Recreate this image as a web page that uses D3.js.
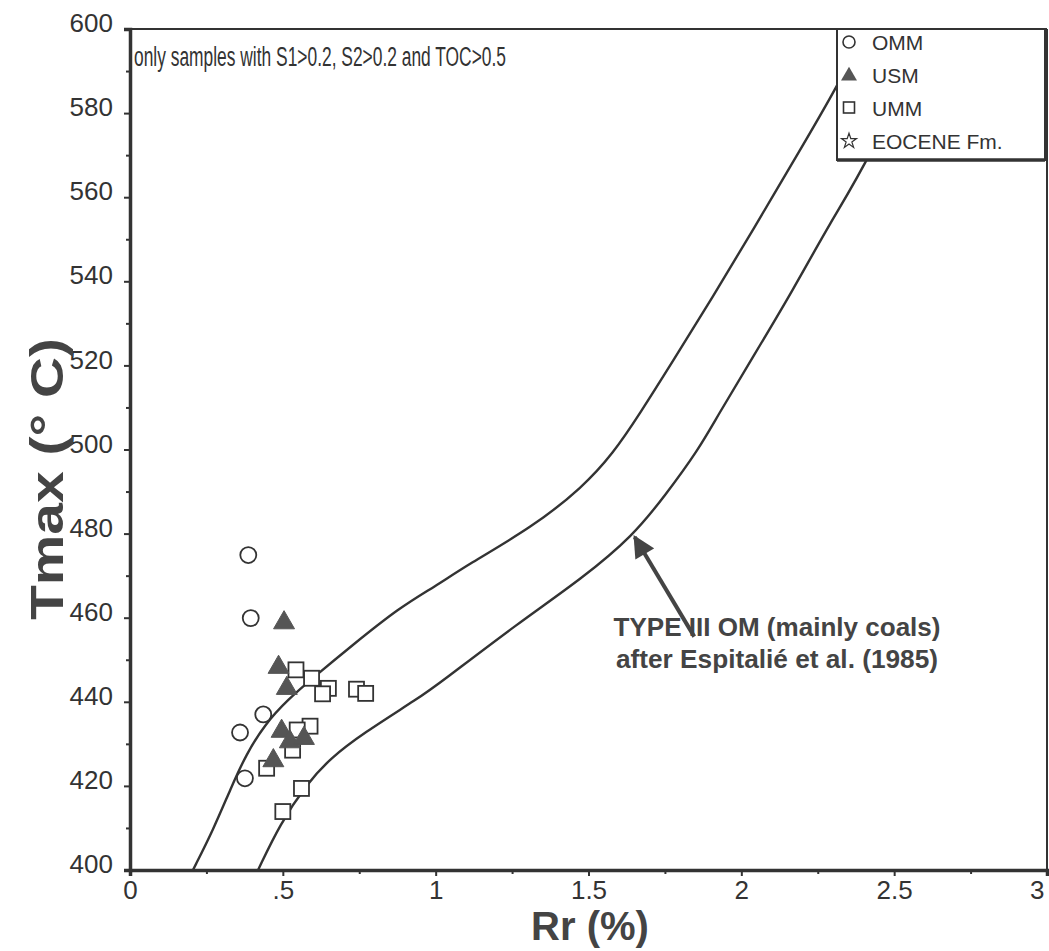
<!DOCTYPE html>
<html><head><meta charset="utf-8">
<script src="https://cdn.jsdelivr.net/npm/d3@7"></script>
<style>body{margin:0;background:#fff}svg{display:block}text{font-family:Arial,"Liberation Sans",Helvetica,sans-serif}</style>
</head><body><svg id="c" width="1049" height="951"></svg>
<script>
// Data (Rr %, Tmax °C)
const omm = [[0.387,474.9],[0.395,459.9],[0.436,437.0],[0.360,432.7],[0.376,421.8]];
const usm = [[0.504,458.8],[0.486,448.2],[0.513,443.2],[0.496,433.0],[0.523,430.5],[0.569,431.3],[0.469,426.0]];
const umm = [[0.543,447.6],[0.594,445.6],[0.649,443.2],[0.630,441.9],[0.741,443.0],[0.771,442.0],[0.589,434.2],[0.547,433.3],[0.532,428.5],[0.447,424.2],[0.561,419.4],[0.500,413.9]];
const eocene = [];
const curveLow = [[0.206,400],[0.272,409.5],[0.330,419.5],[0.380,427.5],[0.440,434.5],[0.514,440.4],[0.612,446.5],[0.720,453.0],[0.883,462.5],[1.0,467.5],[1.102,472.5],[1.318,481.6],[1.482,491.1],[1.580,499],[1.668,508.5],[1.776,521],[1.907,536.3],[2.038,552.2],[2.192,571.2],[2.313,586.2],[2.408,600]];
const curveHigh = [[0.419,400],[0.491,411],[0.579,420.5],[0.654,426.5],[0.762,432.5],[0.949,441.1],[1.014,444.5],[1.266,458.5],[1.482,469.5],[1.646,479.5],[1.750,489],[1.860,500],[1.920,507.7],[2.038,522.0],[2.169,537.9],[2.290,553.9],[2.414,568.4],[2.617,600]];
const xTicks = [0,0.5,1,1.5,2,2.5,3];
const xTickLabels = ["0",".5","1","1.5","2","2.5","3"];
const yTicks = [400,420,440,460,480,500,520,540,560,580,600];
const legendLabels = ["OMM","USM","UMM","EOCENE Fm."];
const noteText = "only samples with S1>0.2, S2>0.2 and TOC>0.5";
const curveNote = ["TYPE III OM (mainly coals)","after Espitalié et al. (1985)"];
const arrowFrom = [1.846,455.5], arrowTo = [1.651,479.2];

const ink = "#333", fillTri = "#555";
const svg = d3.select("#c");
const x = d3.scaleLinear().domain([0,3]).range([130,1047]);
const y = d3.scaleLinear().domain([400,600]).range([870,29]);

const defs = svg.append("defs");
defs.append("clipPath").attr("id","clip").append("rect")
  .attr("x",130).attr("y",29).attr("width",917).attr("height",841);

// frame top/right
svg.append("line").attr("x1",130).attr("x2",1047).attr("y1",29).attr("y2",29).attr("stroke",ink).attr("stroke-width",2);
svg.append("line").attr("x1",1047).attr("x2",1047).attr("y1",29).attr("y2",870).attr("stroke",ink).attr("stroke-width",2);

// curves
const line = d3.line().x(d=>x(d[0])).y(d=>y(d[1])).curve(d3.curveBasis);
const cg = svg.append("g").attr("clip-path","url(#clip)");
[curveLow,curveHigh].forEach(c=>cg.append("path").attr("d",line(c)).attr("fill","none").attr("stroke",ink).attr("stroke-width",2.4));

// axes
const last = xTicks.length-1;
const xAxis = d3.axisBottom(x).tickValues(xTicks).tickFormat((d,i)=>xTickLabels[i]).tickSize(6).tickPadding(5);
const gx = svg.append("g").attr("transform","translate(0,870)").call(xAxis);
gx.select(".domain").attr("stroke",ink).attr("stroke-width",3.5);
gx.selectAll(".tick line").attr("stroke",ink).attr("stroke-width",2);
gx.selectAll(".tick text").attr("fill",ink).attr("font-size",26).attr("text-anchor",(d,i)=>i===last?"end":"middle").attr("dx",(d,i)=>i===last?-3:0);
const gxm = svg.append("g").attr("transform","translate(0,870)").call(d3.axisBottom(x).tickValues(d3.range(0.25,3,0.5)).tickSize(4).tickFormat(""));
gxm.select(".domain").remove(); gxm.selectAll(".tick line").attr("stroke",ink).attr("stroke-width",2);

const yAxis = d3.axisLeft(y).tickValues(yTicks).tickSize(6).tickPadding(11);
const gy = svg.append("g").attr("transform","translate(130,0)").call(yAxis);
gy.select(".domain").attr("stroke",ink).attr("stroke-width",3.5);
gy.selectAll(".tick line").attr("stroke",ink).attr("stroke-width",2);
gy.selectAll(".tick text").attr("fill",ink).attr("font-size",26).attr("dy","0.1em");
const gym = svg.append("g").attr("transform","translate(130,0)").call(d3.axisLeft(y).tickValues(d3.range(410,600,20)).tickSize(4).tickFormat(""));
gym.select(".domain").remove(); gym.selectAll(".tick line").attr("stroke",ink).attr("stroke-width",2);

// titles
svg.append("text").attr("x",590).attr("y",940).attr("text-anchor","middle").attr("font-weight","bold").attr("font-size",40).attr("fill","#444").text("Rr (%)");
svg.append("text").attr("transform","translate(63,479) rotate(-90)").attr("text-anchor","middle").attr("font-weight","bold").attr("font-size",47)
  .attr("textLength",282).attr("lengthAdjust","spacingAndGlyphs").attr("fill","#444").text("Tmax (° C)");

// markers
const mk = svg.append("g");
const triPath = d3.symbol().type(d3.symbolTriangle).size(190)();
mk.selectAll("circle.omm").data(omm).join("circle").attr("cx",d=>x(d[0])).attr("cy",d=>y(d[1])).attr("r",8).attr("fill","#fff").attr("stroke",ink).attr("stroke-width",1.8);
mk.selectAll("rect.umm").data(umm).join("rect").attr("x",d=>x(d[0])-7.5).attr("y",d=>y(d[1])-7.5).attr("width",15).attr("height",15).attr("fill","#fff").attr("stroke",ink).attr("stroke-width",1.8);
mk.selectAll("path.usm").data(usm).join("path").attr("d",triPath).attr("transform",d=>`translate(${x(d[0])},${y(d[1])})`).attr("fill",fillTri).attr("stroke",fillTri).attr("stroke-width",1);

// note text
svg.append("text").attr("x",134).attr("y",66).attr("font-size",27).attr("textLength",372).attr("lengthAdjust","spacingAndGlyphs").attr("fill",ink).text(noteText);

// arrow
defs.append("marker").attr("id","ah").attr("viewBox","0 0 10 10").attr("refX",9).attr("refY",5)
  .attr("markerWidth",6).attr("markerHeight",5.5).attr("orient","auto").append("path").attr("d","M0,0 L10,5 L0,10 Z").attr("fill","#444");
svg.append("line").attr("x1",x(arrowFrom[0])).attr("y1",y(arrowFrom[1])).attr("x2",x(arrowTo[0])).attr("y2",y(arrowTo[1]))
  .attr("stroke","#444").attr("stroke-width",4).attr("marker-end","url(#ah)");
curveNote.forEach((t,i)=>svg.append("text").attr("x",777).attr("y",636+i*32).attr("text-anchor","middle").attr("font-weight","bold").attr("font-size",25)
  .attr("textLength",t.length>26?322:327).attr("lengthAdjust","spacingAndGlyphs").attr("fill","#444").text(t));

// legend
const lg = svg.append("g");
lg.append("rect").attr("x",837).attr("y",29).attr("width",208).attr("height",131).attr("fill","#fff").attr("stroke",ink).attr("stroke-width",2);
lg.append("line").attr("x1",837).attr("x2",1045).attr("y1",160).attr("y2",160).attr("stroke",ink).attr("stroke-width",3.5);
const ly = [42,75,108,141];
lg.append("circle").attr("cx",849).attr("cy",ly[0]).attr("r",6).attr("fill","#fff").attr("stroke",ink).attr("stroke-width",1.6);
lg.append("path").attr("d",d3.symbol().type(d3.symbolTriangle).size(110)()).attr("transform",`translate(849,${ly[1]+1})`).attr("fill",fillTri);
lg.append("rect").attr("x",843.5).attr("y",ly[2]-6).attr("width",11).attr("height",11).attr("fill","#fff").attr("stroke",ink).attr("stroke-width",1.6);
lg.append("path").attr("d",d3.symbol().type(d3.symbolStar).size(70)()).attr("transform",`translate(849,${ly[3]})`).attr("fill","#fff").attr("stroke",ink).attr("stroke-width",1.2);
legendLabels.forEach((t,i)=>lg.append("text").attr("x",872).attr("y",ly[i]).attr("dy","0.36em").attr("font-size",21).attr("fill",ink).text(t));
</script></body></html>
